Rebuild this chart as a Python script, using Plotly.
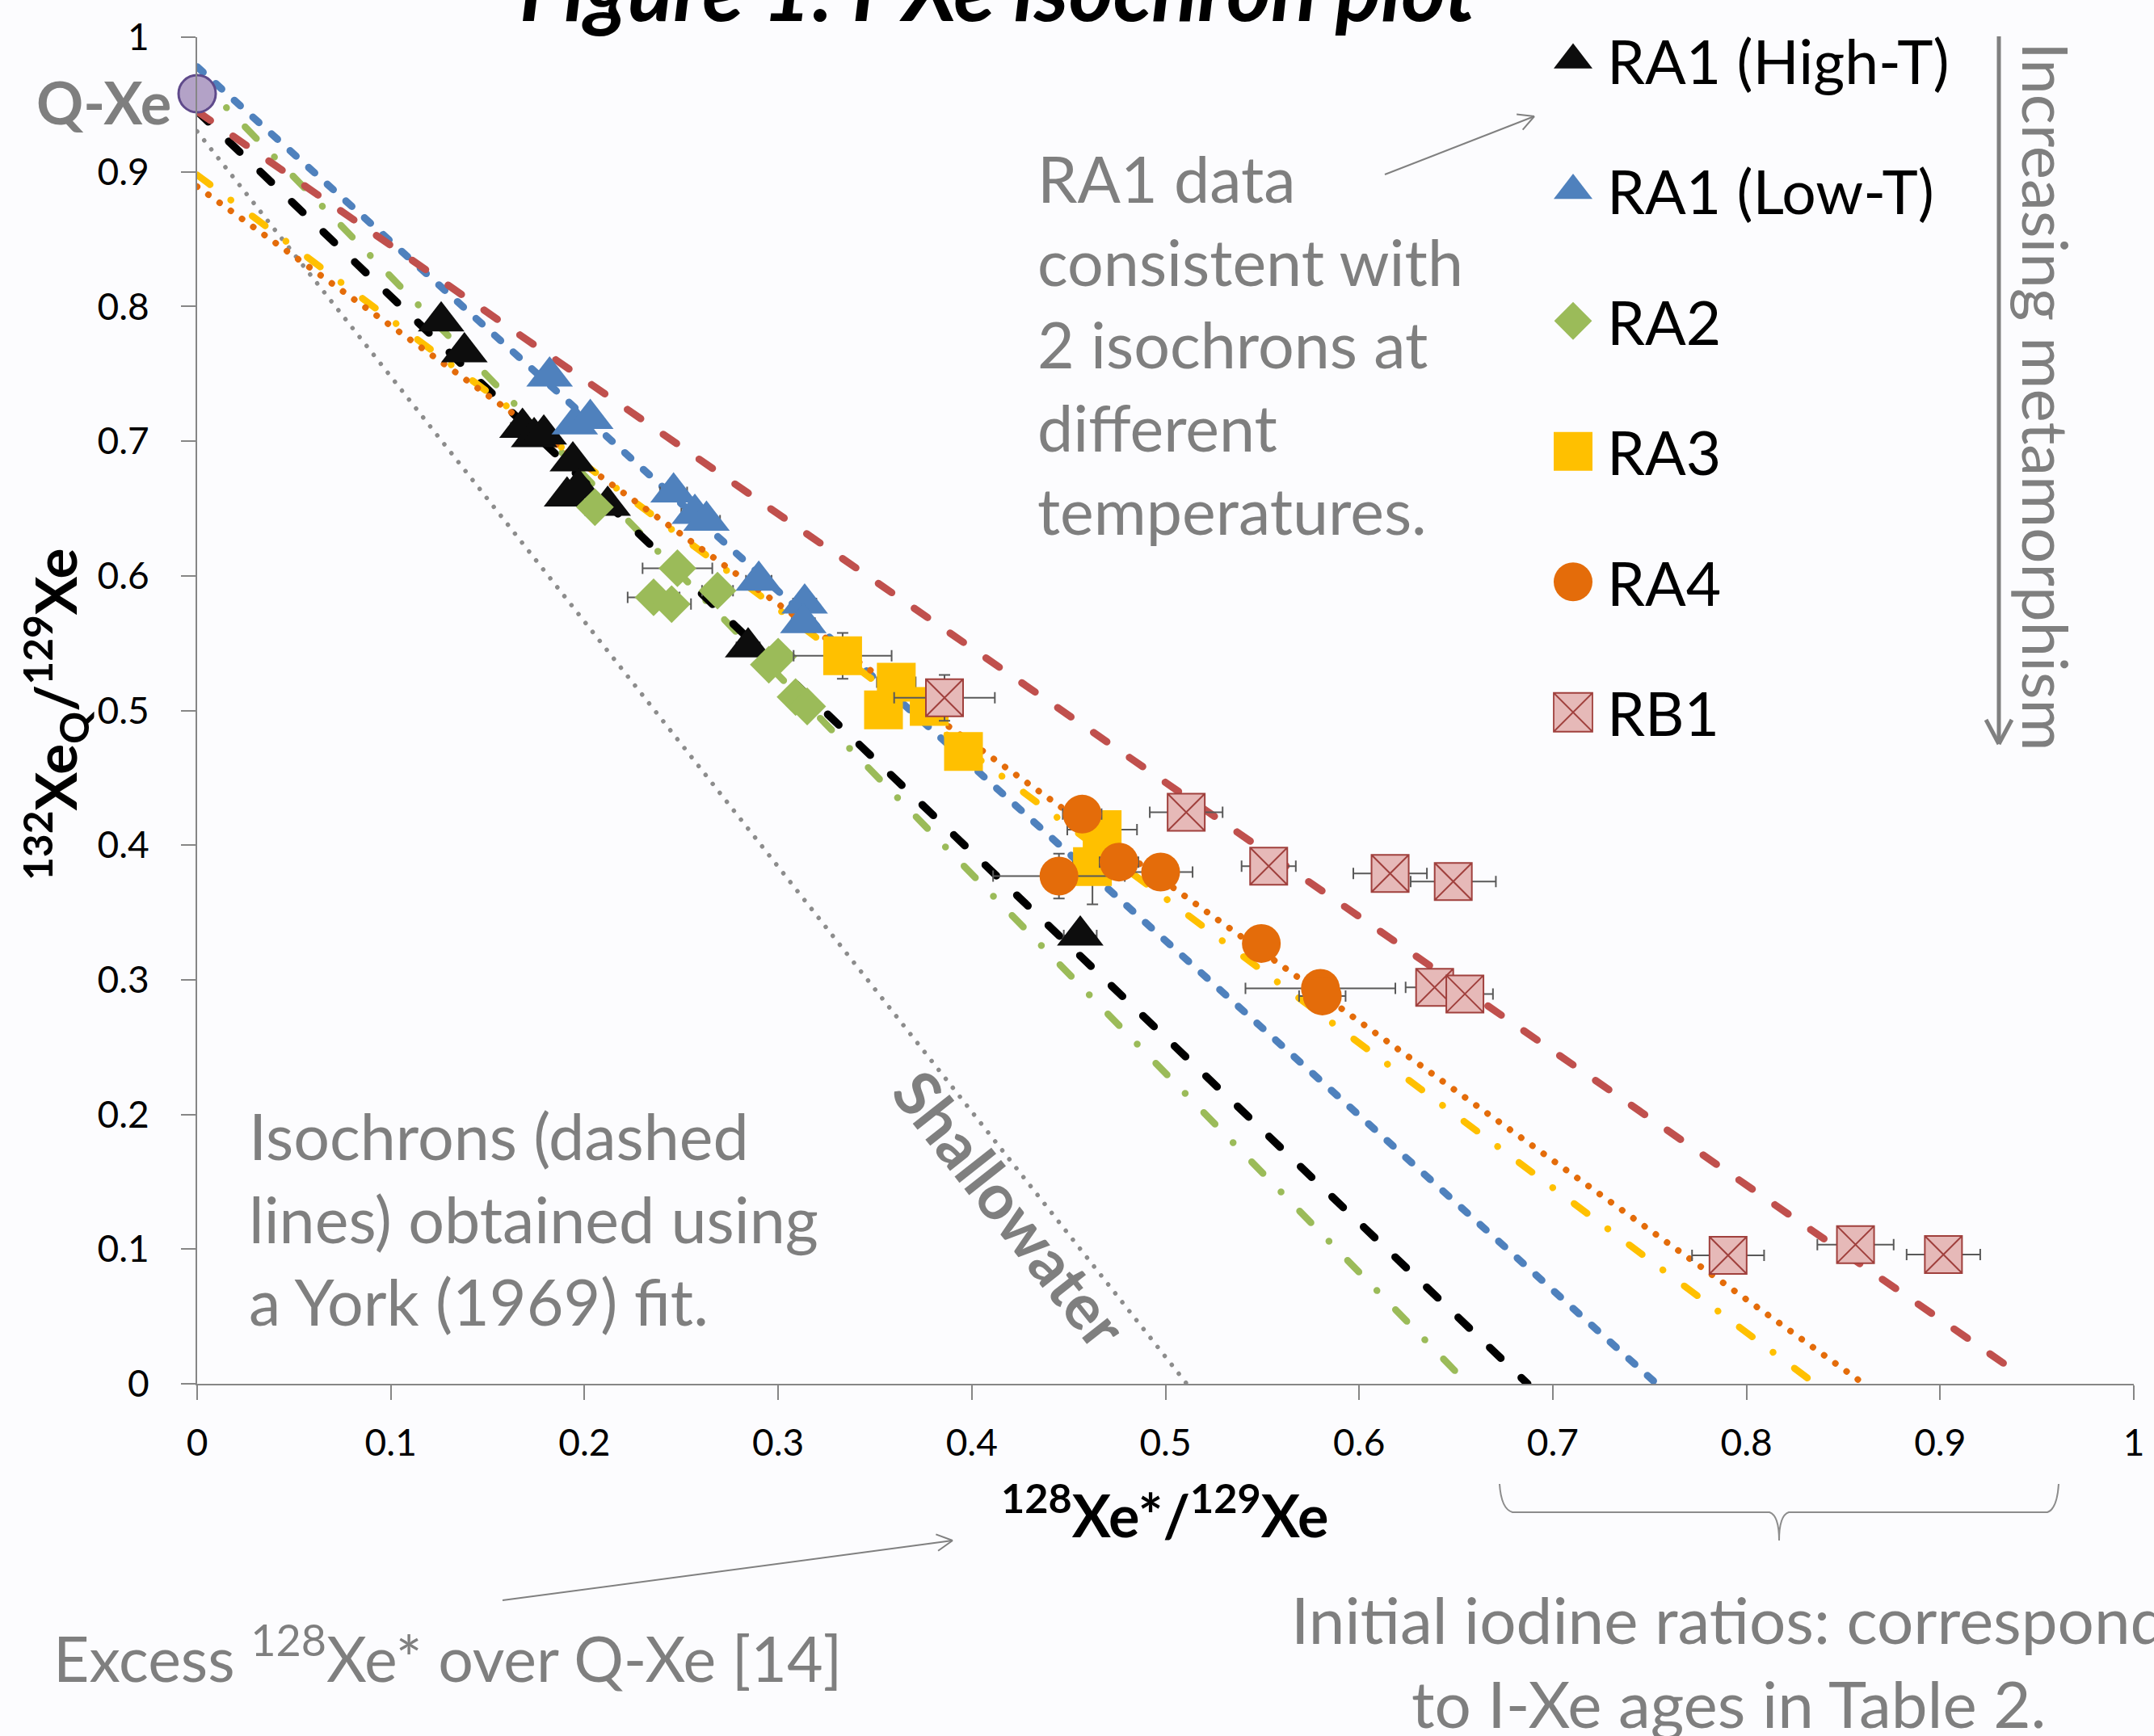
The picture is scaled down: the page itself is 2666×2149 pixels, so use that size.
import math
import plotly.graph_objects as go

# ---------------- data ----------------
ra1_high_x = [0.126, 0.138, 0.168, 0.174, 0.179, 0.194, 0.191, 0.197, 0.212, 0.2845, 0.456]
ra1_high_y = [0.789, 0.766, 0.710, 0.703, 0.705, 0.685, 0.659, 0.665, 0.652, 0.547, 0.333]
ra1_high_ex = [0.004, 0.004, 0.006, 0.006, 0.005, 0.005, 0.005, 0.005, 0.004, 0.006, 0.0085]

ra1_low_x = [0.182, 0.195, 0.203, 0.246, 0.257, 0.263, 0.290, 0.3137, 0.313]
ra1_low_y = [0.748, 0.7125, 0.7166, 0.662, 0.646, 0.641, 0.5965, 0.5795, 0.565]
ra1_low_ex = [0.004, 0.005, 0.005, 0.007, 0.007, 0.007, 0.0066, 0.006, 0.006]

ra2_x = [0.2054, 0.248, 0.2357, 0.245, 0.2687, 0.2952, 0.300, 0.309, 0.315]
ra2_y = [0.651, 0.6056, 0.584, 0.579, 0.589, 0.534, 0.540, 0.510, 0.503]
ra2_ex = [0.004, 0.018, 0.0134, 0.010, 0.008, 0.006, 0.006, 0.006, 0.006]

ra3_x = [0.3333, 0.361, 0.3544, 0.378, 0.3957, 0.4673, 0.4623]
ra3_y = [0.5406, 0.521, 0.5004, 0.503, 0.4695, 0.4115, 0.384]
ra3_ex = [0.0253, 0.010, 0.008, 0.008, 0.008, 0.018, 0.010]
ra3_ey = [0.017, 0.010, 0.008, 0.008, 0.008, 0.010, 0.028]

ra4_x = [0.457, 0.445, 0.476, 0.4975, 0.5495, 0.580, 0.581]
ra4_y = [0.423, 0.377, 0.3874, 0.380, 0.327, 0.2937, 0.288]
ra4_ex = [0.010, 0.034, 0.010, 0.0165, 0.007, 0.0387, 0.012]
ra4_ey = [0.008, 0.0166, 0.008, 0.008, 0.008, 0.012, 0.008]

rb1_x = [0.3859, 0.5107, 0.5533, 0.616, 0.6486, 0.639, 0.6546, 0.7905, 0.8563, 0.9017]
rb1_y = [0.5094, 0.4244, 0.3844, 0.379, 0.373, 0.2944, 0.2895, 0.0954, 0.1034, 0.096]
rb1_ex = [0.026, 0.0188, 0.014, 0.019, 0.022, 0.015, 0.0145, 0.0186, 0.0197, 0.019]
rb1_ey = [0.017, 0.005, 0.005, 0.005, 0.005, 0.005, 0.005, 0.005, 0.005, 0.005]

qxe_x = [0.0]
qxe_y = [0.958]

# isochron lines: [x start, x end], [y start, y end]
iso_shallowater_x = [0.0, 0.511]
iso_shallowater_y = [0.930, 0.0]
iso_ra2_x = [0.0, 0.656]
iso_ra2_y = [0.970, 0.0]
iso_ra1h_x = [0.0, 0.687]
iso_ra1h_y = [0.945, 0.0]
iso_ra1l_x = [0.0, 0.7536]
iso_ra1l_y = [0.978, 0.0]
iso_ra3_x = [0.0, 0.8355]
iso_ra3_y = [0.8977, 0.0]
iso_ra4_x = [0.0, 0.8606]
iso_ra4_y = [0.889, 0.0]
iso_rb1_x = [0.0, 0.938]
iso_rb1_y = [0.945, 0.010]

tick_vals = [0, 0.1, 0.2, 0.3, 0.4, 0.5, 0.6, 0.7, 0.8, 0.9, 1]
tick_text = ["0", "0.1", "0.2", "0.3", "0.4", "0.5", "0.6", "0.7", "0.8", "0.9", "1"]

# ---------------- layout geometry (pixels) ----------------
FW, FH = 2666, 2149
ML, MR, MT, MB = 244, 25, 46, 436
PW = FW - ML - MR
PH = FH - MT - MB


def PX(x):
    return (x - ML) / PW


def PY(y):
    return (FH - MB - y) / PH


FONT = "Lato"
GRAY = "#7f7f7f"
ERR = "#595959"

fig = go.Figure()

# isochron lines (round caps are applied after render)
line_specs = [
    (iso_shallowater_x, iso_shallowater_y, "#8c8c8c", 5.5, "0.1px,14px"),
    (iso_ra2_x, iso_ra2_y, "#9bbb59", 8.5, "20px,32px,0.1px,33px"),
    (iso_ra1h_x, iso_ra1h_y, "#000000", 9.5, "19px,35px"),
    (iso_ra1l_x, iso_ra1l_y, "#4f81bd", 9, "10px,21px"),
    (iso_ra3_x, iso_ra3_y, "#ffc000", 8.5, "20px,32px,0.1px,33px"),
    (iso_ra4_x, iso_ra4_y, "#e46c0a", 8, "0.1px,17px"),
    (iso_rb1_x, iso_rb1_y, "#c0504d", 9, "20px,34px"),
]
for lx, ly, col, w, dash in line_specs:
    fig.add_trace(go.Scatter(x=lx, y=ly, mode="lines", showlegend=False,
                             line=dict(color=col, width=w, dash=dash),
                             hoverinfo="skip", cliponaxis=False))


def err(arr):
    return dict(type="data", array=arr, visible=True, color=ERR, thickness=2, width=7)


series = [
    ("RA1 (High-T)", ra1_high_x, ra1_high_y, ra1_high_ex, None, "triangle-up", 50, "#0d0d0d", "#0d0d0d", 0),
    ("RA1 (Low-T)", ra1_low_x, ra1_low_y, ra1_low_ex, None, "triangle-up", 50, "#4f81bd", "#4f81bd", 0),
    ("RA2", ra2_x, ra2_y, ra2_ex, None, "diamond", 36, "#9bbb59", "#9bbb59", 0),
    ("RA3", ra3_x, ra3_y, ra3_ex, ra3_ey, "square", 48, "#ffc000", "#ffc000", 0),
    ("RA4", ra4_x, ra4_y, ra4_ex, ra4_ey, "circle", 48, "#e46c0a", "#e46c0a", 0),
    ("RB1", rb1_x, rb1_y, rb1_ex, rb1_ey, "square-x", 46, "#e6b9b8", "#a0403d", 2),
]
for i, (name, sx, sy, ex, ey, sym, size, fill, lcol, lw) in enumerate(series):
    kw = dict(error_x=err(ex))
    if ey is not None:
        kw["error_y"] = err(ey)
    fig.add_trace(go.Scatter(
        x=sx, y=sy, mode="markers", name=name, showlegend=False,
        marker=dict(symbol=sym, size=size, color=fill, line=dict(color=lcol, width=lw)),
        cliponaxis=False, **kw))

# legend keys (no data of their own)
for i, (name, sx, sy, ex, ey, sym, size, fill, lcol, lw) in enumerate(series):
    fig.add_trace(go.Scatter(
        x=[None], y=[None], mode="markers", name=name, legendgroup="g%d" % i,
        marker=dict(symbol=sym, size=16, color=fill,
                    line=dict(color=(lcol if lw else fill), width=(0.6 if lw else 0)))))

# Q-Xe point
fig.add_trace(go.Scatter(x=qxe_x, y=qxe_y, mode="markers", showlegend=False,
                         marker=dict(symbol="circle", size=46, color="#b3a2c7",
                                     line=dict(color="#5f4a8b", width=3)),
                         cliponaxis=False))

axis_common = dict(range=[0, 1], tickvals=tick_vals, ticktext=tick_text,
                   showgrid=False, zeroline=False, showline=True,
                   linecolor="#868686", linewidth=2, ticks="outside",
                   ticklen=18, tickwidth=2, tickcolor="#868686",
                   tickfont=dict(family=FONT, size=46, color="#000000"),
                   fixedrange=True)

fig.update_layout(
    width=FW, height=FH,
    margin=dict(l=ML, r=MR, t=MT, b=MB, pad=0),
    paper_bgcolor="#fcfcfe", plot_bgcolor="#fcfcfe",
    xaxis=dict(**axis_common, ticklabelstandoff=14),
    yaxis=dict(**axis_common, ticklabelstandoff=30),
    font=dict(family=FONT, color="#000000"),
    legend=dict(x=PX(1905), y=PY(19), xanchor="left", yanchor="top",
                bgcolor="rgba(0,0,0,0)", font=dict(family=FONT, size=75, color="#000000"),
                tracegroupgap=61, itemsizing="trace", itemwidth=74),
)

ann = []


def A(text, x, y, size=80, color=GRAY, xanchor="left", yanchor="middle", align="left",
      angle=0, bold=False, italic=False, xref="paper", yref="paper"):
    t = text
    if bold:
        t = "<b>" + t + "</b>"
    if italic:
        t = "<i>" + t + "</i>"
    ann.append(dict(text=t, x=x, y=y, xref=xref, yref=yref, showarrow=False,
                    xanchor=xanchor, yanchor=yanchor, align=align, textangle=angle,
                    font=dict(family=FONT, size=size, color=color)))


# title (cut off by top of canvas)
A("Figure 1: I-Xe isochron plot", PX(1235), PY(50), size=105, color="#000000",
  xanchor="center", yanchor="bottom", bold=True, italic=True)
# axis titles
A("<sup>128</sup>Xe*/<sup>129</sup>Xe", PX(1442), PY(1870), size=72, color="#000000",
  xanchor="center", bold=True)
A("<sup>132</sup>Xe<sub>Q</sub>/<sup>129</sup>Xe", PX(68), PY(884), size=71, color="#000000",
  xanchor="center", angle=-90, bold=True)
# notes
A("RA1 data<br>consistent with<br>2 isochrons at<br>different<br>temperatures.",
  PX(1282), PY(426), size=79)
A("Isochrons (dashed<br>lines) obtained using<br>a York (1969) fit.", PX(306), PY(1508), size=79)
A("Q-Xe", PX(214), PY(126), size=72, xanchor="right", bold=True)
A("Shallowater", 0.42, 0.13, size=78, xanchor="center", angle=51.7, bold=True,
  xref="x", yref="y")
A("Excess <sup>128</sup>Xe* over Q-Xe [14]", PX(64), PY(2047), size=77)
A("Initial iodine ratios: correspond<br>to I-Xe ages in Table 2.", PX(2139), PY(2056),
  size=80, xanchor="center", align="center")
A("Increasing metamorphism", PX(2533), PY(491), size=78, xanchor="center", angle=90)

shapes = []


def seg(x0, y0, x1, y1, w=3, col="#808080"):
    shapes.append(dict(type="line", xref="paper", yref="paper",
                       x0=PX(x0), y0=PY(y0), x1=PX(x1), y1=PY(y1),
                       line=dict(color=col, width=w)))


def arrow(x0, y0, x1, y1, w=3, head=22, ang=28):
    seg(x0, y0, x1, y1, w)
    a = math.atan2(y0 - y1, x0 - x1)
    for s in (-1, 1):
        b = a + s * math.radians(ang)
        seg(x1, y1, x1 + head * math.cos(b), y1 + head * math.sin(b), w)


arrow(2474, 45, 2474, 921, w=5, head=34, ang=28)
arrow(1714, 216, 1899, 144, w=2, head=22)
arrow(622, 1981, 1179, 1907, w=2, head=22)

# curly brace below x axis
bp = [(1856, 1837), (1858, 1868), (1872, 1872), (2190, 1872), (2202, 1876), (2202, 1907),
      (2202, 1876), (2214, 1872), (2534, 1872), (2546, 1868), (2548, 1837)]
path = "M %f,%f" % (PX(bp[0][0]), PY(bp[0][1]))
path += " Q %f,%f %f,%f" % (PX(bp[1][0]), PY(bp[1][1]), PX(bp[2][0]), PY(bp[2][1]))
path += " L %f,%f" % (PX(bp[3][0]), PY(bp[3][1]))
path += " Q %f,%f %f,%f" % (PX(bp[4][0]), PY(bp[4][1]), PX(bp[5][0]), PY(bp[5][1]))
path += " Q %f,%f %f,%f" % (PX(bp[6][0]), PY(bp[6][1]), PX(bp[7][0]), PY(bp[7][1]))
path += " L %f,%f" % (PX(bp[8][0]), PY(bp[8][1]))
path += " Q %f,%f %f,%f" % (PX(bp[9][0]), PY(bp[9][1]), PX(bp[10][0]), PY(bp[10][1]))
shapes.append(dict(type="path", xref="paper", yref="paper", path=path,
                   line=dict(color="#8c8c8c", width=2)))

fig.update_layout(annotations=ann, shapes=shapes)

post = """
document.body.style.margin='0px';
document.body.style.overflow='hidden';
var gd = document.getElementById('{plot_id}');
gd.querySelectorAll('.scatterlayer .js-line').forEach(function(p){
  p.style.strokeLinecap = 'round';
});
var f = [2.6, 2.6, 2.25, 3.0, 3.0, 3.0];
gd.querySelectorAll('.legend .traces').forEach(function(t, i){
  t.querySelectorAll('path.scatterpts').forEach(function(p){
    var tf = p.getAttribute('transform') || '';
    p.setAttribute('transform', tf + ' scale(' + f[i] + ')');
  });
});
"""

fig.write_html("out.html", config={"displayModeBar": False}, post_script=post)
